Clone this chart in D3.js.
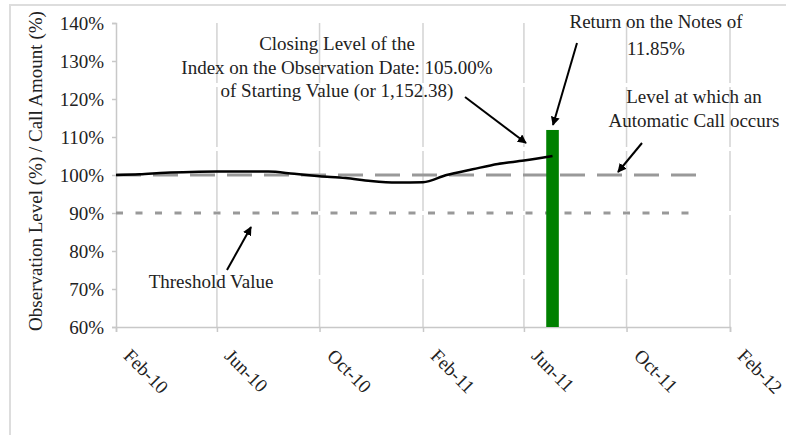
<!DOCTYPE html>
<html>
<head>
<meta charset="utf-8">
<script src="https://cdn.jsdelivr.net/npm/d3@7"></script>
<style>
  html, body { margin: 0; padding: 0; background: #fff; }
  svg { display: block; }
  text { font-family: "Liberation Serif", "Times New Roman", serif; fill: #222; }
</style>
</head>
<body>
<div id="chart"></div>
<script>
// Index level (% of starting value) on each observation
const obsDates = ["2010-02-01", "2010-03-01", "2010-04-01", "2010-05-01", "2010-06-01", "2010-07-01",
  "2010-08-01", "2010-09-01", "2010-10-01", "2010-11-01", "2010-12-01", "2011-01-01",
  "2011-02-01", "2011-03-01", "2011-04-01", "2011-05-01", "2011-06-01", "2011-07-05"];
const obsLevels = [100.0, 100.2, 100.6, 100.8, 100.9, 100.9,
  100.9, 100.3, 99.7, 99.2, 98.4, 98.0,
  98.1, 100.0, 101.5, 102.9, 103.8, 105.0];

// Reference levels
const callLevel = 100;       // level at which an automatic call occurs
const thresholdLevel = 90;   // threshold value
const refStart = "2010-02-01";
const callEnd = "2012-01-03";
const thresholdEnd = "2011-12-28";

// Call amount paid on the observation date
const callDate = "2011-07-05";
const callAmount = 111.85;

// Axis ticks
const xTicks = ["2010-02-01", "2010-06-01", "2010-10-01", "2011-02-01", "2011-06-01", "2011-10-01", "2012-02-01"];
const yTicks = [60, 70, 80, 90, 100, 110, 120, 130, 140];

const parse = d3.timeParse("%Y-%m-%d");
const width = 786, height = 435;
const margin = { top: 23, right: 56, bottom: 108, left: 116 };

const svg = d3.select("#chart").append("svg")
    .attr("width", width)
    .attr("height", height)
    .style("font-size", "19px");

// light frame around the picture
svg.append("rect")
    .attr("x", 10).attr("y", 5)
    .attr("width", width).attr("height", height)
    .attr("fill", "none")
    .attr("stroke", "#ddd")
    .attr("stroke-width", 2);

const x = d3.scaleTime()
    .domain([parse(xTicks[0]), parse(xTicks[xTicks.length - 1])])
    .range([margin.left, width - margin.right]);
const y = d3.scaleLinear()
    .domain([60, 140])
    .range([height - margin.bottom, margin.top]);

// vertical gridlines
svg.append("g")
    .selectAll("line")
    .data(xTicks.slice(1))
    .join("line")
    .attr("x1", d => x(parse(d))).attr("x2", d => x(parse(d)))
    .attr("y1", y(140)).attr("y2", y(60))
    .attr("stroke", "#d3d3d3")
    .attr("stroke-width", 1.5)
    .attr("stroke-dasharray", "60,4");

// axes
const yAxis = svg.append("g")
    .attr("transform", `translate(${margin.left},0)`)
    .call(d3.axisLeft(y).tickValues(yTicks).tickFormat(d => d + "%").tickSize(4).tickPadding(8));
const xAxis = svg.append("g")
    .attr("transform", `translate(0,${y(60)})`)
    .call(d3.axisBottom(x).tickValues(xTicks.map(parse)).tickFormat(d3.timeFormat("%b-%y")).tickSize(5));

[yAxis, xAxis].forEach(g => {
  g.attr("font-size", null).attr("font-family", null);
  g.select(".domain").attr("stroke", "#c8c8c8").attr("stroke-width", 1.5);
  g.selectAll(".tick line").attr("stroke", "#c8c8c8").attr("stroke-width", 1.5);
});
yAxis.selectAll(".tick text").attr("fill", "#222").attr("dy", "0.34em");
xAxis.selectAll(".tick text")
    .attr("fill", "#222")
    .attr("y", null).attr("dy", null)
    .attr("text-anchor", "start")
    .attr("transform", "translate(6,30) rotate(45)");

// y axis title
svg.append("text")
    .attr("transform", `translate(42,${(y(60) + y(140)) / 2 - 4}) rotate(-90)`)
    .attr("text-anchor", "middle")
    .text("Observation Level (%) / Call Amount (%)");

// threshold and call level reference lines
svg.append("line")
    .attr("x1", x(parse(refStart))).attr("x2", x(parse(thresholdEnd)))
    .attr("y1", y(thresholdLevel)).attr("y2", y(thresholdLevel))
    .attr("stroke", "#999").attr("stroke-width", 3)
    .attr("stroke-dasharray", "7,12.5");
svg.append("line")
    .attr("x1", x(parse(refStart))).attr("x2", x(parse(callEnd)))
    .attr("y1", y(callLevel)).attr("y2", y(callLevel))
    .attr("stroke", "#999").attr("stroke-width", 3)
    .attr("stroke-dasharray", "25,12");

// call amount bar
const barW = 12.6;
svg.append("rect")
    .attr("x", x(parse(callDate)) - barW / 2)
    .attr("width", barW)
    .attr("y", y(callAmount))
    .attr("height", y(60) - y(callAmount))
    .attr("fill", "#008000");

// index level line
const line = d3.line()
    .x((d, i) => x(parse(obsDates[i])))
    .y(d => y(d))
    .curve(d3.curveMonotoneX);
svg.append("path")
    .attr("d", line(obsLevels))
    .attr("fill", "none")
    .attr("stroke", "#000")
    .attr("stroke-width", 2.5);

// annotations
function textBlock(cx, y0, lines, step) {
  lines.forEach((t, i) => {
    svg.append("text")
        .attr("x", cx).attr("y", y0 + i * step)
        .attr("text-anchor", "middle")
        .text(t);
  });
}
textBlock(337, 50, ["Closing Level of the", "Index on the Observation Date: 105.00%", "of Starting Value (or 1,152.38)"], 23.5);
textBlock(656, 28, ["Return on the Notes of", "11.85%"], 27);
textBlock(694, 103, ["Level at which an", "Automatic Call occurs"], 24);
textBlock(211, 288, ["Threshold Value"], 0);

svg.append("defs").append("marker")
    .attr("id", "head")
    .attr("viewBox", "0 0 10 10")
    .attr("refX", 9).attr("refY", 5)
    .attr("markerWidth", 4.5).attr("markerHeight", 4.5)
    .attr("orient", "auto")
    .append("path")
    .attr("d", "M0,0L10,5L0,10z")
    .attr("fill", "#000");

const arrows = [
  [465, 97, 526, 143],
  [577, 43, 553, 125],
  [642, 143, 618, 172],
  [227, 270, 251, 227]
];
svg.append("g")
    .selectAll("line")
    .data(arrows)
    .join("line")
    .attr("x1", d => d[0]).attr("y1", d => d[1])
    .attr("x2", d => d[2]).attr("y2", d => d[3])
    .attr("stroke", "#000")
    .attr("stroke-width", 2)
    .attr("marker-end", "url(#head)");
</script>
</body>
</html>
